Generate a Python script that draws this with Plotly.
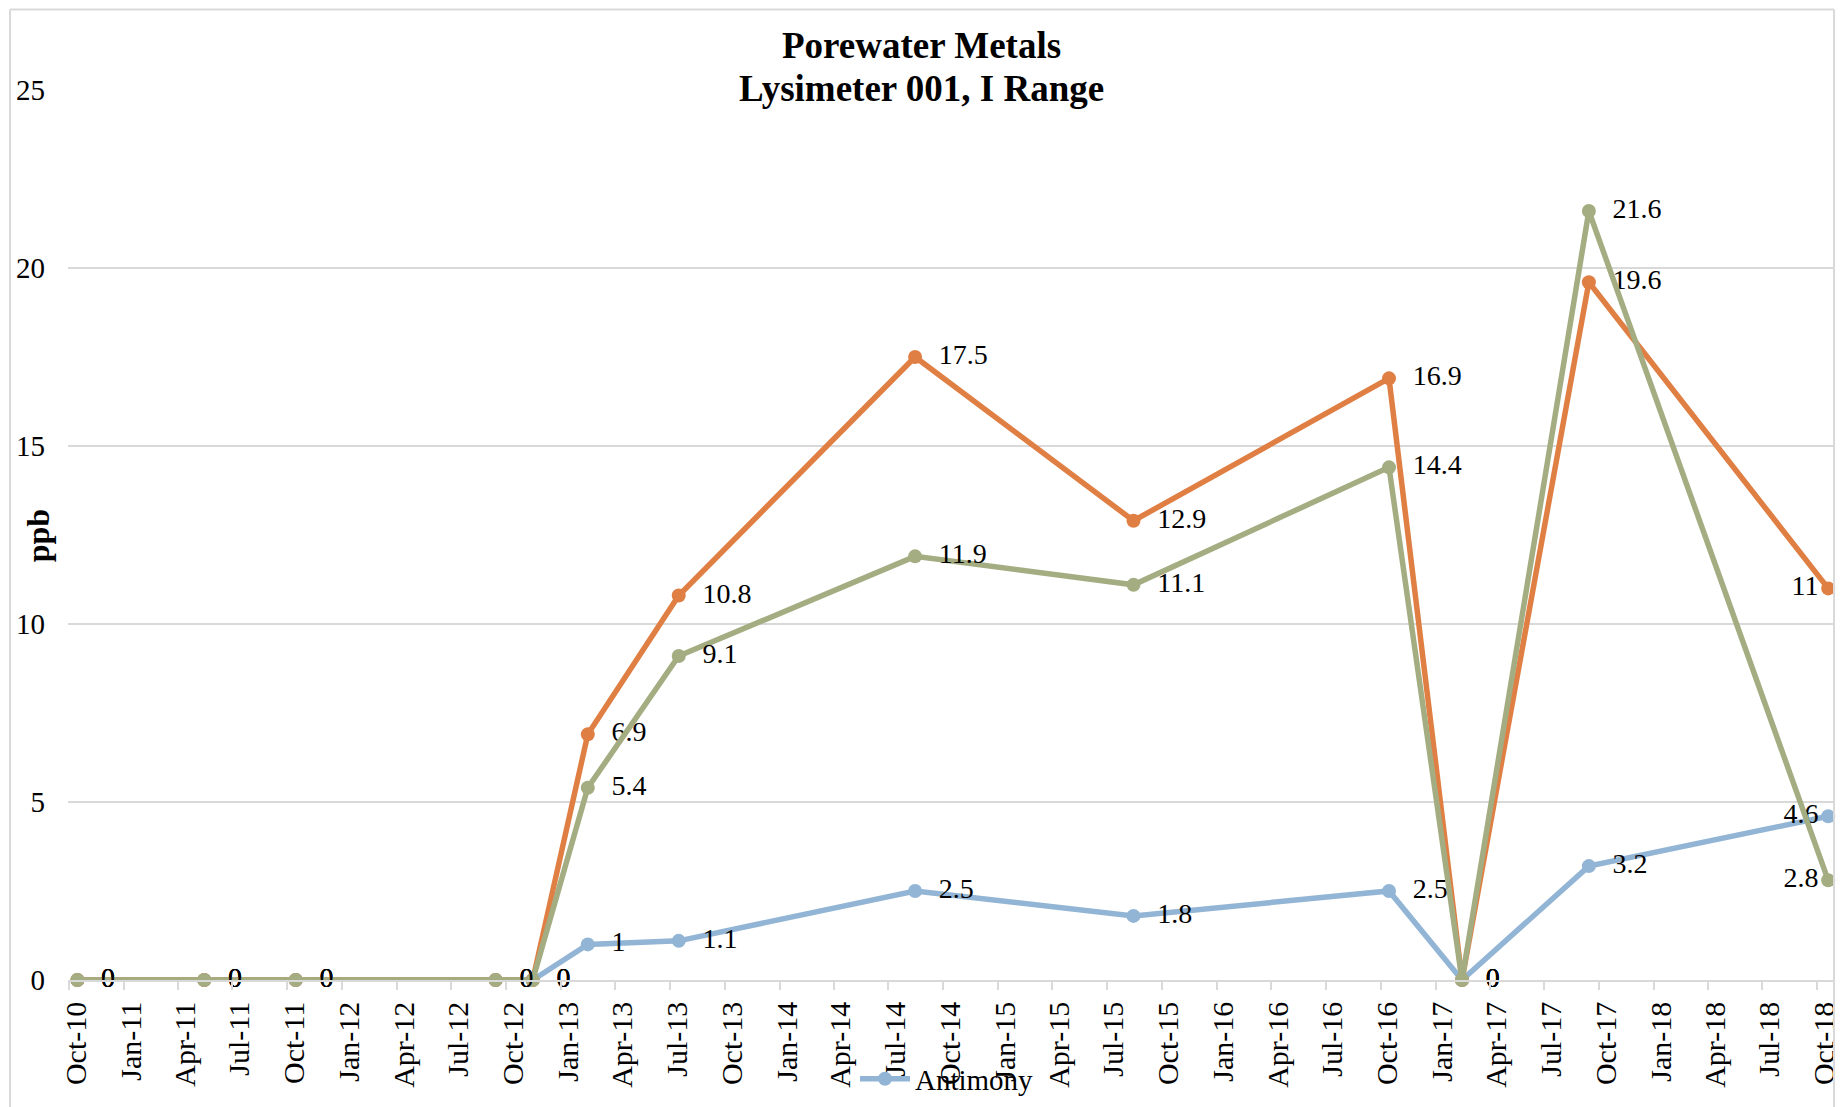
import plotly.graph_objects as go

dates = ["2010-10-15", "2011-05-15", "2011-10-15", "2012-09-13", "2012-11-14",
         "2013-02-14", "2013-07-16", "2014-08-15", "2015-08-15", "2016-10-15",
         "2017-02-14", "2017-09-14", "2018-10-19"]
antimony = [0, 0, 0, 0, 0, 1, 1.1, 2.5, 1.8, 2.5, 0, 3.2, 4.6]
series_orange = [0, 0, 0, 0, 0, 6.9, 10.8, 17.5, 12.9, 16.9, 0, 19.6, 11]
series_green = [0, 0, 0, 0, 0, 5.4, 9.1, 11.9, 11.1, 14.4, 0, 21.6, 2.8]

title_lines = ["Porewater Metals", "Lysimeter 001, I Range"]
y_title = "ppb"

FONT = "Liberation Serif"
BLUE = "#93B5D5"
ORANGE = "#E07F43"
GREEN = "#A4AD82"
GRID = "#D9D9D9"
NB = "\u00a0"

# page body has an 8px margin, so the figure is laid out 8px smaller
W, H = 1839, 1099
L, R, T, B = 60, 14, 81.5, 127
PW, PH = W - L - R, H - T - B


def px(x):
    return (x - L) / PW


def py(y):
    return (H - B - y) / PH


def labels(vals):
    out = []
    for i, v in enumerate(vals):
        s = f"{v:g}"
        if i == len(vals) - 1:
            out.append(s)
        else:
            out.append(NB * 2 + s)
    return out


positions = ["middle right"] * (len(dates) - 1) + ["middle left"]

fig = go.Figure()
for name, vals, color, show in [
    ("Antimony", antimony, BLUE, True),
    ("Series 2", series_orange, ORANGE, False),
    ("Series 3", series_green, GREEN, False),
]:
    fig.add_trace(go.Scatter(
        x=dates, y=vals, name=name, mode="lines+markers+text",
        line=dict(color=color, width=5.5),
        marker=dict(color=color, size=14),
        text=labels(vals),
        textposition=positions,
        textfont=dict(family=FONT, size=28, color="black"),
        showlegend=show,
        cliponaxis=False,
    ))

fig.update_layout(
    width=W, height=H,
    margin=dict(l=L, r=R, t=T, b=B, autoexpand=False),
    paper_bgcolor="white", plot_bgcolor="white",
    font=dict(family=FONT, size=28, color="black"),
    showlegend=True,
    legend=dict(orientation="h", x=px(847), y=py(1071), xanchor="left", yanchor="middle",
                font=dict(family=FONT, size=29, color="black"),
                itemwidth=50,
                bgcolor="rgba(0,0,0,0)"),
    xaxis=dict(
        type="date",
        range=["2010-09-29 08:00", "2018-10-27"],
        tick0="2010-10-01", dtick="M3", tickformat="%b-%y",
        tickangle=-90, ticks="outside", ticklen=8, tickcolor=GRID, tickwidth=1.5,
        showgrid=False, showline=True, linecolor=GRID, linewidth=1.5,
        zeroline=False, automargin=False,
        tickfont=dict(family=FONT, size=30, color="black"),
        ticklabelshift=7,
    ),
    yaxis=dict(
        range=[0, 25], dtick=5, tick0=0,
        showgrid=True, gridcolor=GRID, gridwidth=1.5,
        zeroline=False, showline=False, ticks="", automargin=False,
        tickfont=dict(family=FONT, size=29, color="black"),
        ticklabelstandoff=22,
    ),
    annotations=[
        dict(text="<b>" + title_lines[0] + "</b>", xref="paper", yref="paper",
             x=px(913), y=py(37), xanchor="center", yanchor="middle",
             showarrow=False, font=dict(family=FONT, size=37, color="black")),
        dict(text="<b>" + title_lines[1] + "</b>", xref="paper", yref="paper",
             x=px(913), y=py(80), xanchor="center", yanchor="middle",
             showarrow=False, font=dict(family=FONT, size=37, color="black")),
        dict(text="<b>" + y_title + "</b>", xref="paper", yref="paper",
             x=px(30), y=py(527), xanchor="center", yanchor="middle",
             textangle=-90, showarrow=False, font=dict(family=FONT, size=32, color="black")),
    ],
    shapes=[
        dict(type="line", xref="paper", yref="paper", x0=px(2), x1=px(2),
             y0=py(1), y1=py(H + 5), line=dict(color=GRID, width=2)),
        dict(type="line", xref="paper", yref="paper", x0=px(2), x1=px(1826),
             y0=py(1), y1=py(1), line=dict(color=GRID, width=2)),
        dict(type="line", xref="paper", yref="paper", x0=px(1826), x1=px(1826),
             y0=py(1), y1=py(H + 5), line=dict(color=GRID, width=2)),
    ],
)

fig.write_html("out.html")
